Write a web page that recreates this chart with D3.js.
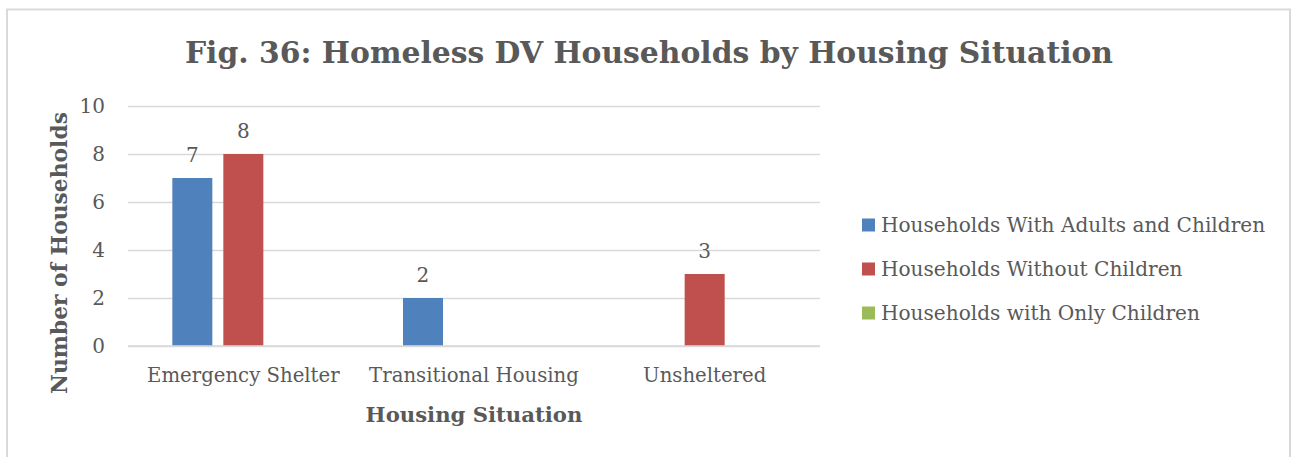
<!DOCTYPE html>
<html>
<head>
<meta charset="utf-8">
<script src="https://cdn.jsdelivr.net/npm/d3@7"></script>
<style>
  html, body { margin: 0; padding: 0; background: #fff; }
  svg { display: block; }
  text { font-family: "DejaVu Serif", serif; fill: #595959; }
</style>
</head>
<body>
<svg id="chart" width="1292" height="457"></svg>
<script>
// Housing situations along the x axis
const categories = ["Emergency Shelter", "Transitional Housing", "Unsheltered"];
// Household types (one bar per type in each situation)
const seriesNames = [
  "Households With Adults and Children",
  "Households Without Children",
  "Households with Only Children"
];
const seriesColors = ["#4F81BD", "#C0504D", "#9BBB59"];
// Counts per household type, in category order (null = no households)
const withAdultsAndChildren = [7, 2, null];
const withoutChildren = [8, null, 3];
const onlyChildren = [null, null, null];
const yTicks = [0, 2, 4, 6, 8, 10];

const seriesValues = [withAdultsAndChildren, withoutChildren, onlyChildren];

const svg = d3.select("#chart");

// Chart frame
svg.append("rect")
  .attr("x", 7).attr("y", 9.5)
  .attr("width", 1283).attr("height", 460)
  .attr("fill", "#fff")
  .attr("stroke", "#d9d9d9").attr("stroke-width", 2);

const plot = { left: 128, right: 820, top: 106, bottom: 346 };

const y = d3.scaleLinear().domain([0, 10]).range([plot.bottom, plot.top]);
const x0 = d3.scaleBand().domain(categories)
  .range([plot.left, plot.right])
  .paddingInner(0.3367).paddingOuter(0.16835);
const x1 = d3.scaleBand().domain(seriesNames)
  .range([0, x0.bandwidth()])
  .paddingInner(11 / 51).paddingOuter(5.5 / 51);

// Title
svg.append("text")
  .attr("x", 649).attr("y", 63)
  .attr("text-anchor", "middle")
  .attr("font-weight", "bold")
  .attr("font-size", 29.8)
  .text("Fig. 36: Homeless DV Households by Housing Situation");

// Horizontal gridlines
const yAxis = d3.axisLeft(y).tickValues(yTicks).tickSize(-(plot.right - plot.left)).tickPadding(23);
const gy = svg.append("g").attr("transform", `translate(${plot.left},0)`).call(yAxis);
gy.select(".domain").remove();
gy.selectAll(".tick line").attr("stroke", "#d9d9d9").attr("stroke-width", 1.5);
gy.selectAll(".tick text")
  .attr("font-size", 20)
  .attr("fill", "#595959")
  .style("font-family", "DejaVu Serif, serif");

// Bars
const rows = categories.map((c, i) => ({
  category: c,
  values: seriesNames.map((s, k) => ({ series: s, color: seriesColors[k], value: seriesValues[k][i] }))
}));

const groups = svg.append("g").selectAll("g")
  .data(rows).join("g")
  .attr("transform", d => `translate(${x0(d.category)},0)`);

groups.selectAll("rect")
  .data(d => d.values.filter(v => v.value != null))
  .join("rect")
  .attr("x", d => x1(d.series))
  .attr("y", d => y(d.value))
  .attr("width", x1.bandwidth())
  .attr("height", d => y(0) - y(d.value))
  .attr("fill", d => d.color);

groups.selectAll("text.val")
  .data(d => d.values.filter(v => v.value != null))
  .join("text")
  .attr("class", "val")
  .attr("x", d => x1(d.series) + x1.bandwidth() / 2)
  .attr("y", d => y(d.value) - 16)
  .attr("text-anchor", "middle")
  .attr("font-size", 20)
  .text(d => d.value);

// Category axis (baseline drawn over the zero gridline)
const xAxis = d3.axisBottom(x0).tickSize(0).tickPadding(22);
const gx = svg.append("g").attr("transform", `translate(0,${plot.bottom})`).call(xAxis);
gx.select(".domain").attr("stroke", "#d9d9d9").attr("stroke-width", 1.5)
  .attr("d", `M${plot.left},0H${plot.right}`);
gx.selectAll(".tick text")
  .attr("font-size", 19.7)
  .attr("fill", "#595959")
  .style("font-family", "DejaVu Serif, serif");

// Axis titles
svg.append("text")
  .attr("x", 474).attr("y", 422)
  .attr("text-anchor", "middle")
  .attr("font-weight", "bold")
  .attr("font-size", 21.2)
  .text("Housing Situation");

svg.append("text")
  .attr("transform", "translate(67,253) rotate(-90)")
  .attr("text-anchor", "middle")
  .attr("font-weight", "bold")
  .attr("font-size", 21.8)
  .text("Number of Households");

// Legend
const legend = svg.append("g").selectAll("g")
  .data(seriesNames).join("g")
  .attr("transform", (d, i) => `translate(862,${225 + i * 44})`);
legend.append("rect")
  .attr("x", 0).attr("y", -6.5)
  .attr("width", 13).attr("height", 13)
  .attr("fill", (d, i) => seriesColors[i]);
legend.append("text")
  .attr("x", 19).attr("y", 7)
  .attr("font-size", 20.1)
  .text(d => d);
</script>
</body>
</html>
